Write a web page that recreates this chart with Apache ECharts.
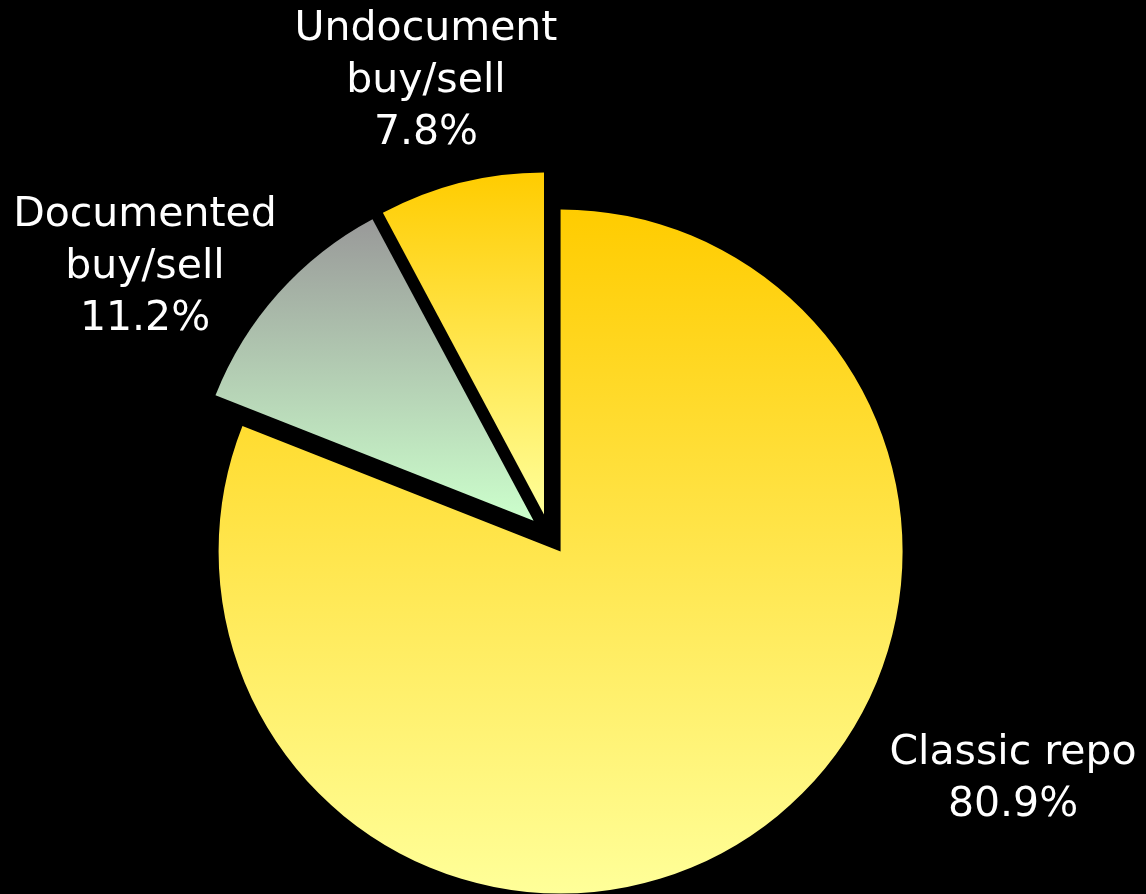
<!DOCTYPE html>
<html><head><meta charset="utf-8">
<script src="https://cdn.jsdelivr.net/npm/echarts@6/dist/echarts.min.js"></script>
<style>html,body{margin:0;padding:0;background:#000;}#c{width:1146px;height:894px;}</style>
</head><body><div id="c"></div>
<script>
const categories = ['Classic repo', 'Documented\nbuy/sell', 'Undocument\nbuy/sell'];
const shares = [80.9, 11.2, 7.8];
const labelSpots = [[1013, 779], [145, 267], [426, 81]];
const fills = [
  ['#FFCC00', '#FFFF99'],
  ['#999999', '#CCFFCC'],
  ['#FFCC00', '#FFFF99']
];
const common = {
  type: 'pie',
  center: [549, 534.5],
  radius: [0, 342],
  startAngle: 90,
  clockwise: true,
  avoidLabelOverlap: false,
  emphasis: {disabled: true},
  labelLine: {show: false}
};
const chart = echarts.init(document.getElementById('c'), null, {renderer: 'canvas'});
chart.setOption({
  backgroundColor: '#000',
  animation: false,
  series: [
    Object.assign({}, common, {
      selectedMode: 'multiple',
      selectedOffset: 20.6,
      itemStyle: {borderWidth: 0},
      label: {show: false},
      data: categories.map((n, i) => ({
        name: n, value: shares[i], selected: true,
        itemStyle: {color: new echarts.graphic.LinearGradient(0, 0, 0, 1, [{offset: 0, color: fills[i][0]}, {offset: 1, color: fills[i][1]}])}
      }))
    }),
    Object.assign({}, common, {
      silent: true,
      selectedMode: false,
      itemStyle: {color: 'rgba(0,0,0,0)', borderWidth: 0},
      label: {
        show: true, position: 'outside', color: '#fff', fontFamily: 'DejaVu Sans',
        fontSize: 41, lineHeight: 52, align: 'center',
        formatter: p => p.name + '\n' + p.value + '%'
      },
      labelLayout: p => ({x: labelSpots[p.dataIndex][0], y: labelSpots[p.dataIndex][1], align: 'center', verticalAlign: 'middle'}),
      data: categories.map((n, i) => ({name: n, value: shares[i]}))
    })
  ]
});
</script></body></html>
